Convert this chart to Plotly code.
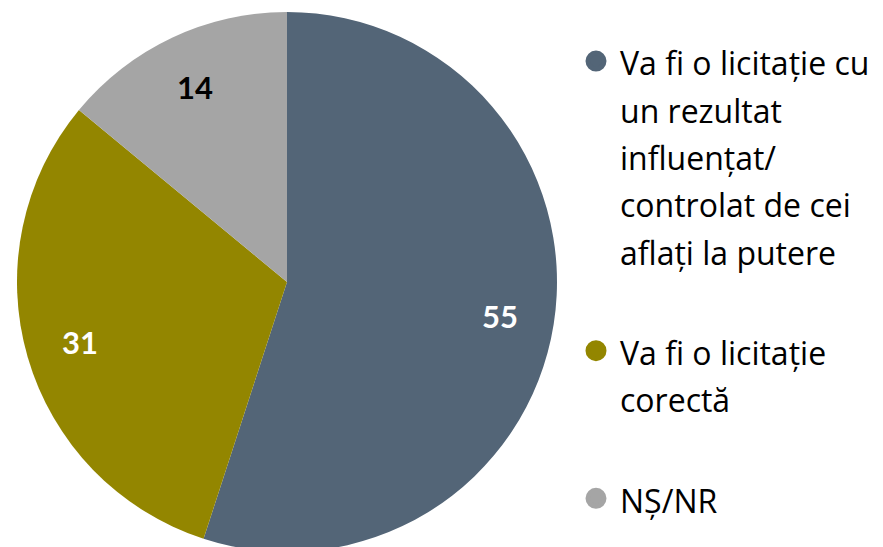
import math
import plotly.graph_objects as go

categories = [
    "Va fi o licitație cu<br>un rezultat<br>influențat/<br>controlat de cei<br>aflați la putere",
    "Va fi o licitație<br>corectă",
    "NȘ/NR",
]
values = [55, 31, 14]
colors = ["#536577", "#938600", "#A5A5A5"]
label_colors = ["white", "white", "black"]

W, H = 883, 547
MT, MB = 4, 3
PLOT_H = H - MT - MB
PIE_X0, PIE_X1 = 9, 549
LEG_FONT = "'Open Sans', Carlito, Calibri, sans-serif"
LBL_FONT = "Lato, Carlito, Calibri, sans-serif"

fig = go.Figure()
fig.add_trace(go.Pie(
    values=values,
    labels=[c.replace("<br>", " ") for c in categories],
    marker=dict(colors=colors),
    sort=False,
    direction="clockwise",
    rotation=0,
    textinfo="none",
    showlegend=False,
    hoverinfo="label+value",
    domain=dict(x=[PIE_X0 / W, PIE_X1 / W], y=[0, 1]),
))

# value labels placed at 80% of the radius, at each slice's mid-angle
radius = min(PIE_X1 - PIE_X0, PLOT_H) / 2
cx = (PIE_X0 + PIE_X1) / 2 / W
cy = 0.5
total = sum(values)
cum = 0
for v, tc in zip(values, label_colors):
    mid = (cum + v / 2) / total * 2 * math.pi
    cum += v
    fig.add_annotation(
        x=cx + 0.8 * radius * math.sin(mid) / W,
        y=cy + 0.8 * radius * math.cos(mid) / PLOT_H,
        xref="paper", yref="paper", showarrow=False,
        xanchor="center", yanchor="middle",
        text=str(v),
        font=dict(family=LBL_FONT, size=31, color=tc, weight="bold"),
    )

for i, (cat, col) in enumerate(zip(categories, colors)):
    fig.add_trace(go.Scatter(
        x=[None], y=[None], mode="markers",
        name='<span style="font-size:32px">' + cat + "</span>",
        legendgroup=f"g{i}",
        marker=dict(symbol="circle", size=16, color=col,
                    line=dict(color=col, width=5)),
    ))

fig.update_layout(
    width=W, height=H,
    margin=dict(l=0, r=0, t=MT, b=MB),
    paper_bgcolor="white",
    plot_bgcolor="white",
    xaxis=dict(visible=False),
    yaxis=dict(visible=False),
    showlegend=True,
    legend=dict(
        x=564 / W, xanchor="left",
        y=0.965, yanchor="top",
        font=dict(family=LEG_FONT, size=36.4, color="black"),
        itemwidth=38,
        valign="top",
        tracegroupgap=50,
        bgcolor="rgba(0,0,0,0)",
        itemclick=False, itemdoubleclick=False,
    ),
)

fig.write_html("out.html")
